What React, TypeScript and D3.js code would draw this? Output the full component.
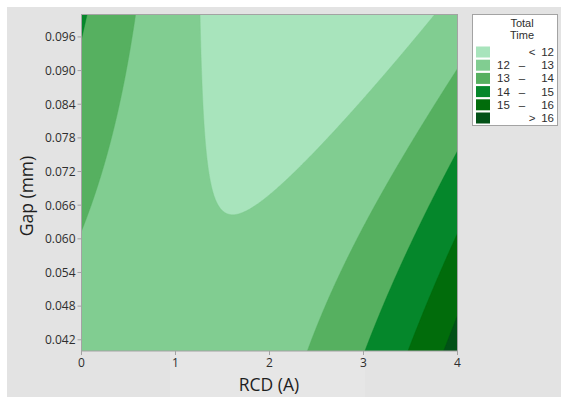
import React, { useMemo } from "react";
import * as d3 from "d3";

// Axis ranges and ticks
const RCD_DOMAIN: [number, number] = [0, 4];
const GAP_DOMAIN: [number, number] = [0.04, 0.1];
const RCD_TICKS = [0, 1, 2, 3, 4];
const GAP_TICKS = [0.042, 0.048, 0.054, 0.06, 0.066, 0.072, 0.078, 0.084, 0.09, 0.096];

// Contour levels of Total Time
const TIME_LEVELS = [12, 13, 14, 15, 16];

// Fitted response surface for Total Time, with r = RCD (A) and g = coded gap (0 at 0.040, 1 at 0.100):
// terms in order: 1, r, r^2, r^3, g, r*g
const SURFACE_COEFS = [12.376, -0.7164, 0.3671, 0.01635, 1.752, -1.46];

// Band fills, lightest (< 12) to darkest (> 16)
const BAND_COLORS = ["#A8E4BC", "#81CD91", "#56B060", "#05872B", "#016C0B", "#025117"];

const W = 561;
const H = 398;
const PLOT = { left: 81.5, right: 457.5, top: 14.5, bottom: 351 };

function totalTime(r: number, gap: number): number {
  const g = (gap - GAP_DOMAIN[0]) / (GAP_DOMAIN[1] - GAP_DOMAIN[0]);
  const [b0, b1, b2, b3, b4, b5] = SURFACE_COEFS;
  return b0 + b1 * r + b2 * r * r + b3 * r * r * r + b4 * g + b5 * r * g;
}

export default function App() {
  const x = d3.scaleLinear().domain(RCD_DOMAIN).range([PLOT.left, PLOT.right]);
  const y = d3.scaleLinear().domain(GAP_DOMAIN).range([PLOT.bottom, PLOT.top]);

  const bands = useMemo(() => {
    const n = 320;
    const m = 290;
    const values = new Array(n * m);
    const rAt = (i: number) => RCD_DOMAIN[0] + (i / (n - 1)) * (RCD_DOMAIN[1] - RCD_DOMAIN[0]);
    const gAt = (j: number) => GAP_DOMAIN[1] - (j / (m - 1)) * (GAP_DOMAIN[1] - GAP_DOMAIN[0]);
    for (let j = 0; j < m; j++) {
      for (let i = 0; i < n; i++) {
        values[j * n + i] = totalTime(rAt(i), gAt(j));
      }
    }
    const contours = d3.contours().size([n, m]).thresholds(TIME_LEVELS)(values);
    const proj = d3.geoTransform({
      point(px: number, py: number) {
        (this as any).stream.point(x(rAt(px - 0.5)), y(gAt(py - 0.5)));
      },
    });
    const path = d3.geoPath(proj);
    return contours.map((c, k) => ({ d: path(c as any) || "", color: BAND_COLORS[k + 1] }));
  }, []);

  const legendRows = [
    ["<", "", String(TIME_LEVELS[0])],
    ...TIME_LEVELS.slice(0, -1).map((v, i) => [String(v), "–", String(TIME_LEVELS[i + 1])]),
    [">", "", String(TIME_LEVELS[TIME_LEVELS.length - 1])],
  ];

  const font = "'Open Sans', 'Noto Sans', sans-serif";
  const legendFont = "'Liberation Sans', Arial, sans-serif";
  const axisGrey = "#A3A3A3";

  return (
    <svg
      width={W}
      height={H}
      style={{ position: "absolute", left: 0, top: 0, background: "#FFFFFF" }}
      fontFamily={font}
    >
      <rect x={7} y={7} width={W - 7} height={H - 8} fill="#E3E3E3" />
      <rect x={170} y={352} width={195} height={45} fill="#E6E6E6" />

      <defs>
        <clipPath id="plot-clip">
          <rect x={PLOT.left} y={PLOT.top} width={PLOT.right - PLOT.left} height={PLOT.bottom - PLOT.top} />
        </clipPath>
      </defs>

      <g clipPath="url(#plot-clip)">
        <rect
          x={PLOT.left}
          y={PLOT.top}
          width={PLOT.right - PLOT.left}
          height={PLOT.bottom - PLOT.top}
          fill={BAND_COLORS[0]}
        />
        {bands.map((b, i) => (
          <path key={i} d={b.d} fill={b.color} stroke={b.color} strokeWidth={0.4} />
        ))}
      </g>
      <rect
        x={PLOT.left}
        y={PLOT.top}
        width={PLOT.right - PLOT.left}
        height={PLOT.bottom - PLOT.top}
        fill="none"
        stroke={axisGrey}
        strokeWidth={1}
      />

      {/* Y axis */}
      {GAP_TICKS.map((t) => (
        <g key={t} transform={`translate(0,${y(t)})`}>
          <line x1={PLOT.left - 4} x2={PLOT.left} y1={0} y2={0} stroke={axisGrey} />
          <text x={PLOT.left - 6} dy="0.36em" textAnchor="end" fontSize={12} fill="#2E2E2E">
            {d3.format(".3f")(t)}
          </text>
        </g>
      ))}

      {/* X axis */}
      {RCD_TICKS.map((t) => (
        <g key={t} transform={`translate(${x(t)},0)`}>
          <line x1={0} x2={0} y1={PLOT.bottom} y2={PLOT.bottom + 4} stroke={axisGrey} />
          <text y={367} textAnchor="middle" fontSize={12} fill="#2E2E2E">
            {t}
          </text>
        </g>
      ))}

      <text x={269} y={391} textAnchor="middle" fontSize={17.5} fill="#1E1E1E">
        RCD (A)
      </text>
      <text
        transform="translate(33,196) rotate(-90)"
        textAnchor="middle"
        fontSize={17.5}
        fill="#1E1E1E"
      >
        Gap (mm)
      </text>

      {/* Legend */}
      <g fontFamily={legendFont}>
        <rect x={472.5} y={14.5} width={85} height={111} fill="#FFFFFF" stroke={axisGrey} />
        <text x={522} y={27} textAnchor="middle" fontSize={11} fill="#2E2E2E">
          Total
        </text>
        <text x={522} y={39} textAnchor="middle" fontSize={11} fill="#2E2E2E">
          Time
        </text>
        {legendRows.map((row, i) => {
          const cy = 52 + i * 13.2;
          return (
            <g key={i}>
              <rect x={476} y={cy - 5.5} width={14} height={11} fill={BAND_COLORS[i]} />
              {row[1] ? (
                <>
                  <text x={497} y={cy + 4} fontSize={11.5} fill="#2E2E2E">
                    {row[0]}
                  </text>
                  <text x={522} y={cy + 4} textAnchor="middle" fontSize={11.5} fill="#2E2E2E">
                    {row[1]}
                  </text>
                </>
              ) : (
                <text x={532} y={cy + 4} textAnchor="middle" fontSize={11.5} fill="#2E2E2E">
                  {row[0]}
                </text>
              )}
              <text x={554} y={cy + 4} textAnchor="end" fontSize={11.5} fill="#2E2E2E">
                {row[2]}
              </text>
            </g>
          );
        })}
      </g>
    </svg>
  );
}
